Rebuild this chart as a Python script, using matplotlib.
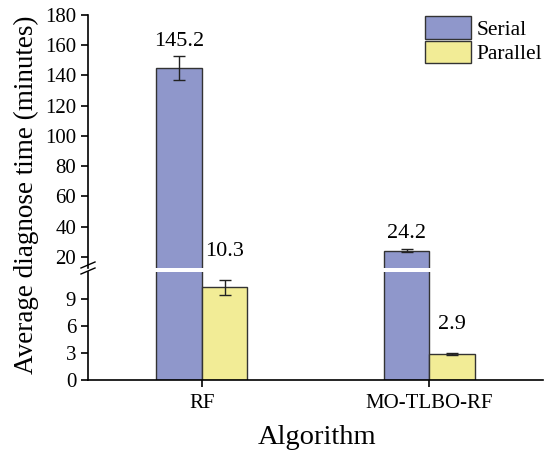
import matplotlib
matplotlib.use("Agg")
import matplotlib.pyplot as plt
import numpy as np
from matplotlib.patches import Patch

plt.rcParams['font.family'] = ['Liberation Serif', 'DejaVu Serif']

categories = ["RF", "MO-TLBO-RF"]
serial = [145.2, 24.2]
serial_err = [8.0, 0.8]
parallel = [10.3, 2.9]
parallel_err = [0.8, 0.15]
top_ticks = [20, 40, 60, 80, 100, 120, 140, 160, 180]
bottom_ticks = [0, 3, 6, 9]

c_serial = "#8f97cb"
c_par = "#f2ec96"
edge = "#333333"

W, H = 546, 458
fig = plt.figure(figsize=(W / 100, H / 100), dpi=100)
left = 88 / W
right = 543 / W
ax_top = fig.add_axes([left, (H - 268) / H, right - left, (268 - 15) / H])
ax_bot = fig.add_axes([left, (H - 380) / H, right - left, (380 - 272) / H])

x = np.arange(len(categories))
w = 0.2
for ax in (ax_top, ax_bot):
    ax.bar(x - w / 2, serial, w, color=c_serial, edgecolor=edge, linewidth=1.0,
           yerr=serial_err, error_kw=dict(ecolor="#222222", elinewidth=1.0, capsize=4, capthick=1.0))
    ax.bar(x + w / 2, parallel, w, color=c_par, edgecolor=edge, linewidth=1.0,
           yerr=parallel_err, error_kw=dict(ecolor="#222222", elinewidth=1.0, capsize=4, capthick=1.0))
    ax.set_xlim(-0.5, 1.5)
    for s in ("top", "right"):
        ax.spines[s].set_visible(False)
    ax.spines["left"].set_linewidth(1.2)
    ax.tick_params(axis="both", direction="out", labelsize=15, width=1.2, length=5)

ax_top.set_ylim(12.7, 180)
ax_top.set_yticks(top_ticks)
ax_top.spines["bottom"].set_visible(False)
ax_top.tick_params(axis="x", bottom=False, labelbottom=False)

ax_bot.set_ylim(0, 12)
ax_bot.set_yticks(bottom_ticks)
ax_bot.spines["bottom"].set_linewidth(1.2)
ax_bot.set_xticks(x)
ax_bot.set_xticklabels(categories)
ax_bot.tick_params(axis="x", pad=5)

# break marks on y axis
for yy in (265, 271):
    fig.add_artist(plt.Line2D([(88 - 7) / W, (88 + 7) / W], [(H - yy - 3) / H, (H - yy + 3) / H],
                              color="black", linewidth=1.0))

# value labels
fs = 16
ax_top.annotate(f"{serial[0]}", (x[0] - w / 2, serial[0] + serial_err[0]), xytext=(0, 14),
                textcoords="offset pixels", ha="center", va="center", fontsize=fs)
ax_bot.annotate(f"{parallel[0]}", (x[0] + w / 2, parallel[0] + parallel_err[0]), xytext=(0, 29),
                textcoords="offset pixels", ha="center", va="center", fontsize=fs, annotation_clip=False)
ax_top.annotate(f"{serial[1]}", (x[1] - w / 2, serial[1] + serial_err[1]), xytext=(0, 16),
                textcoords="offset pixels", ha="center", va="center", fontsize=fs)
ax_bot.annotate(f"{parallel[1]}", (x[1] + w / 2, parallel[1] + parallel_err[1]), xytext=(0, 28),
                textcoords="offset pixels", ha="center", va="center", fontsize=fs)

handles = [Patch(facecolor=c_serial, edgecolor=edge, label="Serial"),
           Patch(facecolor=c_par, edgecolor=edge, label="Parallel")]
fig.legend(handles=handles, loc="upper left", bbox_to_anchor=(425 / W, (H - 16) / H), frameon=False,
           fontsize=15.5, handlelength=2.14, handleheight=1.25, handletextpad=0.25, labelspacing=0.05,
           borderpad=0, borderaxespad=0)

fig.text(26 / W, (H - 195) / H, "Average diagnose time (minutes)", rotation=90,
         ha="center", va="center", fontsize=19.5)
fig.text(317 / W, (H - 438) / H, "Algorithm", ha="center", va="center", fontsize=20.5)

fig.savefig("out.png", dpi=100)
